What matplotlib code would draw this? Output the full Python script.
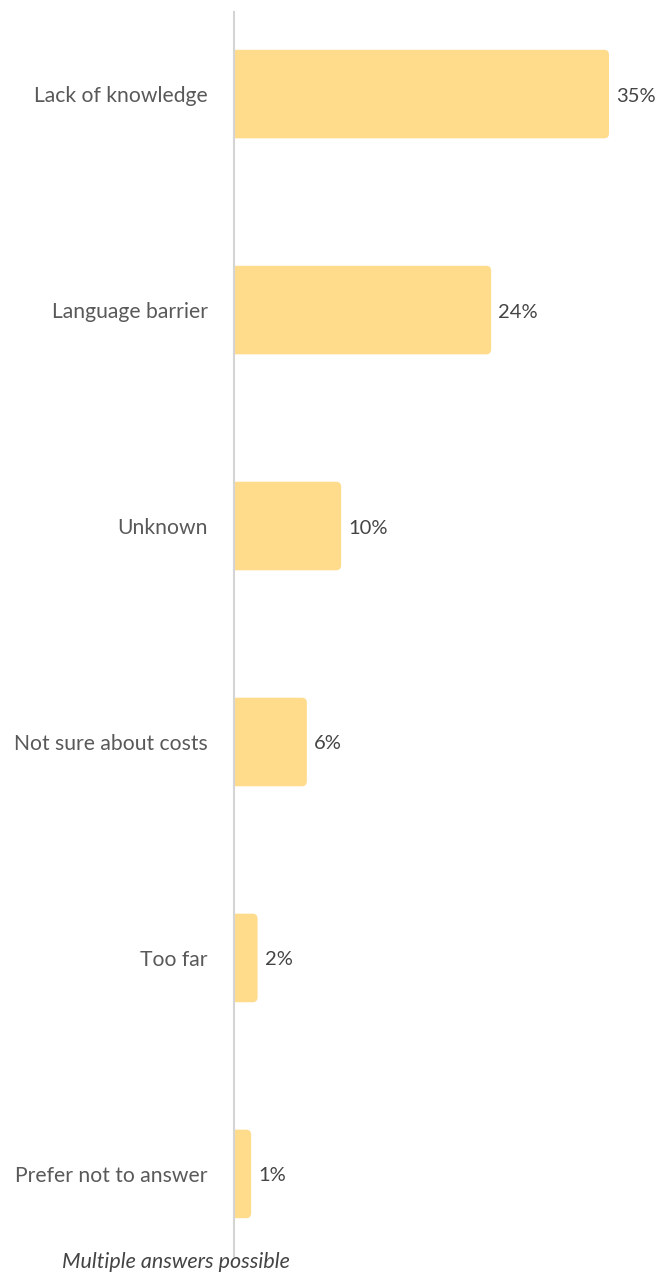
import matplotlib
matplotlib.use('Agg')
import matplotlib.pyplot as plt
from matplotlib.patches import FancyBboxPatch

plt.rcParams['font.family'] = ['Lato', 'DejaVu Sans']

categories = ['Lack of knowledge', 'Language barrier', 'Unknown',
              'Not sure about costs', 'Too far', 'Prefer not to answer']
values = [35, 24, 10, 6.8, 2.2, 1.6]   # bar lengths
labels = ['35%', '24%', '10%', '6%', '2%', '1%']

bar_color = '#ffdb8c'
W, H = 658, 1273
fig = plt.figure(figsize=(W / 100, H / 100), dpi=100)
# axes from x=234 to right edge, y=12 to 1256 px
ax = fig.add_axes([234 / W, 1 - 1256 / H, (W - 234) / W, (1256 - 12) / H])

px_x = 35 / 375.0    # data units per pixel in x
px_y = 1 / 216.0     # data units per pixel in y

y = list(range(len(categories)))
bars = ax.barh(y, values, height=0.41, color=bar_color)
for b in bars:
    x0, y0 = b.get_x(), b.get_y()
    w, h = b.get_width(), b.get_height()
    b.remove()
    r = 5 * px_x
    p = FancyBboxPatch((x0 - 1.0, y0), w + 1.0, h,
                       boxstyle=f'round,pad=0,rounding_size={r}',
                       mutation_aspect=px_y / px_x,
                       facecolor=bar_color, edgecolor='none')
    ax.add_patch(p)

# value labels sit a touch below bar centre
for yi, v, lab in zip(y, values, labels):
    ax.text(v + 7 * px_x, yi + 2 * px_y, lab, va='center', ha='left',
            fontsize=14.5, color='#444444')

ax.set_xlim(0, (W - 234) * px_x)
ax.set_ylim(5 + 0.38, -0.38)
ax.set_yticks(y)
ax.set_yticklabels(categories, fontsize=15.2, color='#595959')
ax.tick_params(axis='y', length=0, pad=19)
ax.set_xticks([])
for s in ['top', 'right', 'bottom']:
    ax.spines[s].set_visible(False)
ax.spines['left'].set_color('#d4d4d4')
ax.spines['left'].set_linewidth(1.5)

fig.text(62 / W, 1 - 1262 / H, 'Multiple answers possible', style='italic',
         fontsize=15.5, color='#444444', ha='left', va='center')

fig.savefig('out.png', dpi=100)
